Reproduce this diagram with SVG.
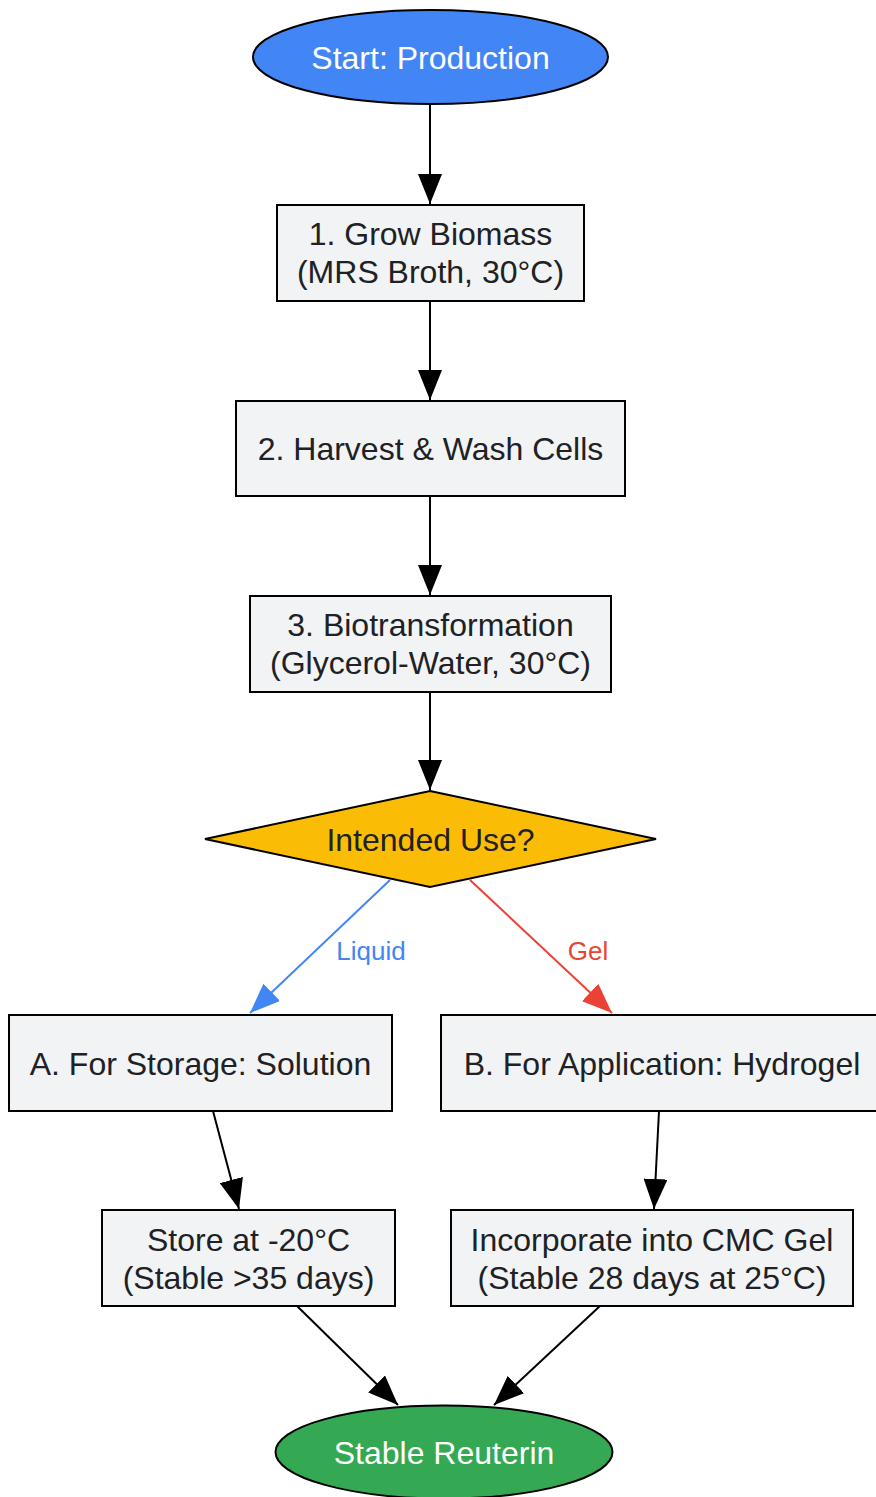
<svg xmlns="http://www.w3.org/2000/svg" width="876" height="1497" viewBox="0 0 876 1497">
<style>
.box{fill:#F1F3F4;stroke:#000;stroke-width:2}
.t{font-family:"Liberation Sans",Arial,sans-serif;font-size:32px;fill:#202124;text-anchor:middle;dominant-baseline:central}
.w{fill:#fff}
.e{fill:none;stroke:#000;stroke-width:2}
.lbl{font-family:"Liberation Sans",Arial,sans-serif;font-size:26px;text-anchor:middle;dominant-baseline:central}
</style>
<defs>
<marker id="ak" markerUnits="userSpaceOnUse" markerWidth="32" markerHeight="24" refX="30" refY="12" orient="auto"><path d="M0,0 L30,12 L0,24 Z" fill="#000"/></marker>
<marker id="ab" markerUnits="userSpaceOnUse" markerWidth="32" markerHeight="24" refX="30" refY="12" orient="auto"><path d="M0,0 L30,12 L0,24 Z" fill="#4285F4"/></marker>
<marker id="ar" markerUnits="userSpaceOnUse" markerWidth="32" markerHeight="24" refX="30" refY="12" orient="auto"><path d="M0,0 L30,12 L0,24 Z" fill="#EA4335"/></marker>
</defs>
<g id="connectors">
<path class="e" d="M430,104 L430,204" marker-end="url(#ak)"/>
<path class="e" d="M430,301 L430,400" marker-end="url(#ak)"/>
<path class="e" d="M430,496 L430,595" marker-end="url(#ak)"/>
<path class="e" d="M430,692 L430,790" marker-end="url(#ak)"/>
<path class="e" d="M390,880 L250,1013" style="stroke:#4285F4" marker-end="url(#ab)"/>
<path class="e" d="M470,880 L612,1013" style="stroke:#EA4335" marker-end="url(#ar)"/>
<text class="lbl" x="371" y="951" fill="#4285F4">Liquid</text>
<text class="lbl" x="588" y="951" fill="#EA4335">Gel</text>
<path class="e" d="M213,1111 L239,1209" marker-end="url(#ak)"/>
<path class="e" d="M659,1111 L654,1209" marker-end="url(#ak)"/>
<path class="e" d="M297,1306 L398,1405" marker-end="url(#ak)"/>
<path class="e" d="M600,1306 L494,1405" marker-end="url(#ak)"/>
</g>
<g id="start">
<ellipse cx="430.5" cy="57" rx="177.5" ry="47" fill="#4285F4" stroke="#000" stroke-width="2"/>
<text class="t w" x="430.5" y="58">Start: Production</text>
</g>
<g id="grow">
<rect class="box" x="277" y="205" width="307" height="96"/>
<text class="t" x="430.5" y="234">1. Grow Biomass</text>
<text class="t" x="430.5" y="272">(MRS Broth, 30°C)</text>
</g>
<g id="harvest">
<rect class="box" x="236" y="401" width="389" height="95"/>
<text class="t" x="430.5" y="449">2. Harvest &amp; Wash Cells</text>
</g>
<g id="biotrans">
<rect class="box" x="250" y="596" width="361" height="96"/>
<text class="t" x="430.5" y="625">3. Biotransformation</text>
<text class="t" x="430.5" y="663">(Glycerol-Water, 30°C)</text>
</g>
<g id="decision">
<polygon points="430,791 656,839 430,887 205,839" fill="#FBBC05" stroke="#000" stroke-width="2"/>
<text class="t" x="430.5" y="840">Intended Use?</text>
</g>
<g id="storage">
<rect class="box" x="9" y="1015" width="383" height="96"/>
<text class="t" x="200.5" y="1064">A. For Storage: Solution</text>
</g>
<g id="application">
<rect class="box" x="441" y="1015" width="436" height="96"/>
<text class="t" x="662" y="1064">B. For Application: Hydrogel</text>
</g>
<g id="store">
<rect class="box" x="102" y="1210" width="293" height="96"/>
<text class="t" x="248.5" y="1240">Store at -20°C</text>
<text class="t" x="248.5" y="1278">(Stable &gt;35 days)</text>
</g>
<g id="incorporate">
<rect class="box" x="451" y="1210" width="402" height="96"/>
<text class="t" x="652" y="1240">Incorporate into CMC Gel</text>
<text class="t" x="652" y="1278">(Stable 28 days at 25°C)</text>
</g>
<g id="end">
<ellipse cx="444" cy="1452" rx="168.5" ry="46.5" fill="#34A853" stroke="#000" stroke-width="2"/>
<text class="t w" x="444" y="1453">Stable Reuterin</text>
</g>
</svg>
